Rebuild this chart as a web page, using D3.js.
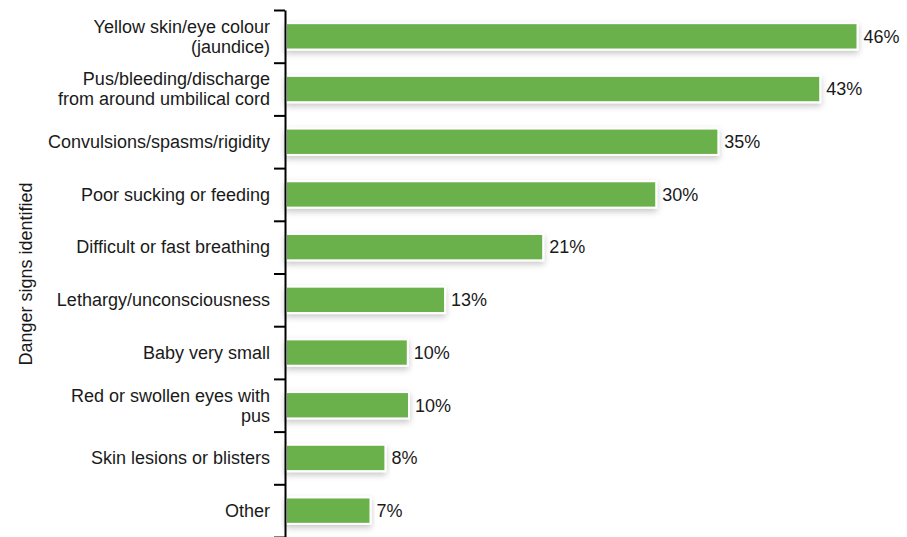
<!DOCTYPE html>
<html><head><meta charset="utf-8">
<script src="https://cdn.jsdelivr.net/npm/d3@7"></script>
<style>
html,body{margin:0;padding:0;background:#fff;}
text{font-family:"Liberation Sans",Arial,sans-serif;fill:#1a1a1a;}
</style></head>
<body><svg id="chart" width="907" height="537"></svg>
<script>
const categories = [
  ["Yellow skin/eye colour","(jaundice)"],
  ["Pus/bleeding/discharge","from around umbilical cord"],
  ["Convulsions/spasms/rigidity"],
  ["Poor sucking or feeding"],
  ["Difficult or fast breathing"],
  ["Lethargy/unconsciousness"],
  ["Baby very small"],
  ["Red or swollen eyes with","pus"],
  ["Skin lesions or blisters"],
  ["Other"]
];
const values = [46, 43, 34.8, 29.8, 20.7, 12.8, 9.8, 9.9, 8, 6.8];
const valueLabels = ["46%","43%","35%","30%","21%","13%","10%","10%","8%","7%"];
const axisTitle = "Danger signs identified";

(function(){
const svg = d3.select("#chart");
const x0 = 285, yTop = 10, yBottom = 537;
const fs = "18px";
const ids = categories.map((d,i)=>i);
const y = d3.scaleBand().domain(ids).range([yTop, yBottom]).paddingInner(0.5).paddingOuter(0.25);
const x = d3.scaleLinear().domain([0, 46]).range([x0 + 1, 857.5]);

const defs = svg.append("defs");
const f = defs.append("filter").attr("id","sh").attr("x","-5%").attr("y","-50%").attr("width","110%").attr("height","220%");
f.append("feDropShadow").attr("dx",0).attr("dy",3).attr("stdDeviation",3).attr("flood-color","#000").attr("flood-opacity",0.22);

svg.append("g").selectAll("rect").data(values).join("rect")
  .attr("x", x(0))
  .attr("y", (d,i)=>y(i))
  .attr("width", d=>x(d)-x(0))
  .attr("height", y.bandwidth())
  .attr("fill", "#6ab04c")
  .attr("stroke", "#fff")
  .attr("stroke-width", 2)
  .attr("filter","url(#sh)");

svg.append("g").selectAll("text").data(values).join("text")
  .attr("x", d=>x(d)+6)
  .attr("y", (d,i)=>y(i)+y.bandwidth()/2)
  .attr("dy","0.35em")
  .style("font-size",fs)
  .text((d,i)=>valueLabels[i]);

const yb = d3.scaleLinear().domain([0, categories.length]).range([yTop, yBottom]);
const axis = d3.axisLeft(yb).tickValues(d3.range(categories.length+1)).tickSize(11).tickSizeOuter(0).tickFormat("");
const ag = svg.append("g").attr("transform",`translate(${x0},0)`).call(axis);
ag.selectAll("path,line").attr("stroke","#000").attr("stroke-width",2);

const lg = svg.append("g");
categories.forEach((lines,i)=>{
  const cy = y(i)+y.bandwidth()/2;
  const lh = 20;
  const t = lg.append("text").attr("text-anchor","end").style("font-size",fs);
  lines.forEach((ln,j)=>{
    t.append("tspan").attr("x",270).attr("y", cy + (j-(lines.length-1)/2)*lh).attr("dy","0.35em").text(ln);
  });
});

svg.append("text").attr("transform",`translate(32,${274}) rotate(-90)`)
  .attr("text-anchor","middle").style("font-size",fs).text(axisTitle);
})();
</script></body></html>
